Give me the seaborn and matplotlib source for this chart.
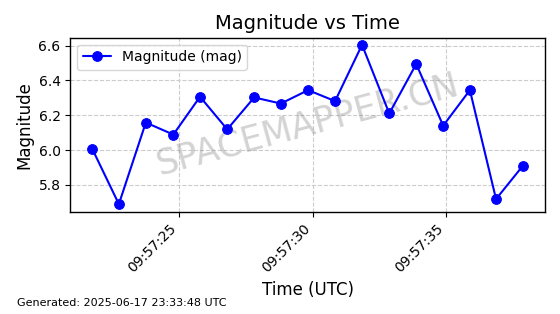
import matplotlib
matplotlib.use("Agg")
import matplotlib.pyplot as plt
import matplotlib.dates as mdates
import seaborn as sns
import pandas as pd

times = ["09:57:21.74", "09:57:22.74", "09:57:23.75", "09:57:24.78", "09:57:25.78",
         "09:57:26.80", "09:57:27.81", "09:57:28.81", "09:57:29.83", "09:57:30.84",
         "09:57:31.85", "09:57:32.87", "09:57:33.88", "09:57:34.89", "09:57:35.89",
         "09:57:36.87", "09:57:37.88"]
magnitudes = [6.008, 5.690, 6.158, 6.089, 6.306, 6.119, 6.302, 6.267, 6.344, 6.281,
              6.604, 6.210, 6.494, 6.140, 6.344, 5.719, 5.911]
series_label = "Magnitude (mag)"
title = "Magnitude vs Time"
xlabel = "Time (UTC)"
ylabel = "Magnitude"
footer = "Generated: 2025-06-17 23:33:48 UTC"
watermark = "SPACEMAPPER.CN"

df = pd.DataFrame({
    "time": pd.to_datetime(["2025-06-17 " + t for t in times]),
    "mag": magnitudes,
})

sns.set_style("white")
plt.rcParams['font.family'] = ['DejaVu Sans']
plt.rcParams['text.color'] = 'black'
plt.rcParams['axes.labelcolor'] = 'black'
plt.rcParams['xtick.color'] = 'black'
plt.rcParams['ytick.color'] = 'black'

fig = plt.figure(figsize=(5.6, 3.14), dpi=100)
ax = fig.add_axes([0.1255, 0.325, 0.848, 0.555])

sns.lineplot(data=df, x="time", y="mag", ax=ax, color="blue", marker="o",
             markersize=7, markeredgecolor="blue", linewidth=1.5,
             label=series_label, zorder=3)

ax.grid(True, linestyle="--", color="#cccccc", linewidth=0.8)
ax.set_axisbelow(True)
for s in ax.spines.values():
    s.set_visible(True)
    s.set_color("black")
    s.set_linewidth(1.0)

ax.xaxis.set_major_locator(mdates.SecondLocator(bysecond=[0, 5, 10, 15, 20, 25, 30, 35, 40, 45, 50, 55]))
ax.xaxis.set_major_formatter(mdates.DateFormatter("%H:%M:%S"))
ax.set_xlim(pd.Timestamp("2025-06-17 09:57:20.92"), pd.Timestamp("2025-06-17 09:57:38.71"))
ax.set_ylim(5.645, 6.645)
ax.set_yticks([5.8, 6.0, 6.2, 6.4, 6.6])
ax.tick_params(axis="both", labelsize=10, length=3.5, width=0.8, colors="black", direction="out")
ax.tick_params(axis="x", bottom=True)
ax.tick_params(axis="y", left=True)
plt.setp(ax.get_xticklabels(), rotation=45, ha="right")

ax.set_title(title, fontsize=14, color="black")
ax.set_xlabel(xlabel, fontsize=12, color="black")
ax.set_ylabel(ylabel, fontsize=12, color="black")

leg = ax.legend(loc="upper left", fontsize=10, frameon=True)

ax.text(0.5, 0.5, watermark, transform=ax.transAxes, fontsize=25, color="gray",
        alpha=0.35, rotation=15, ha="center", va="center", zorder=1)

fig.text(0.03, 0.025, footer, fontsize=8, color="black")

fig.savefig("out.png", dpi=100)
